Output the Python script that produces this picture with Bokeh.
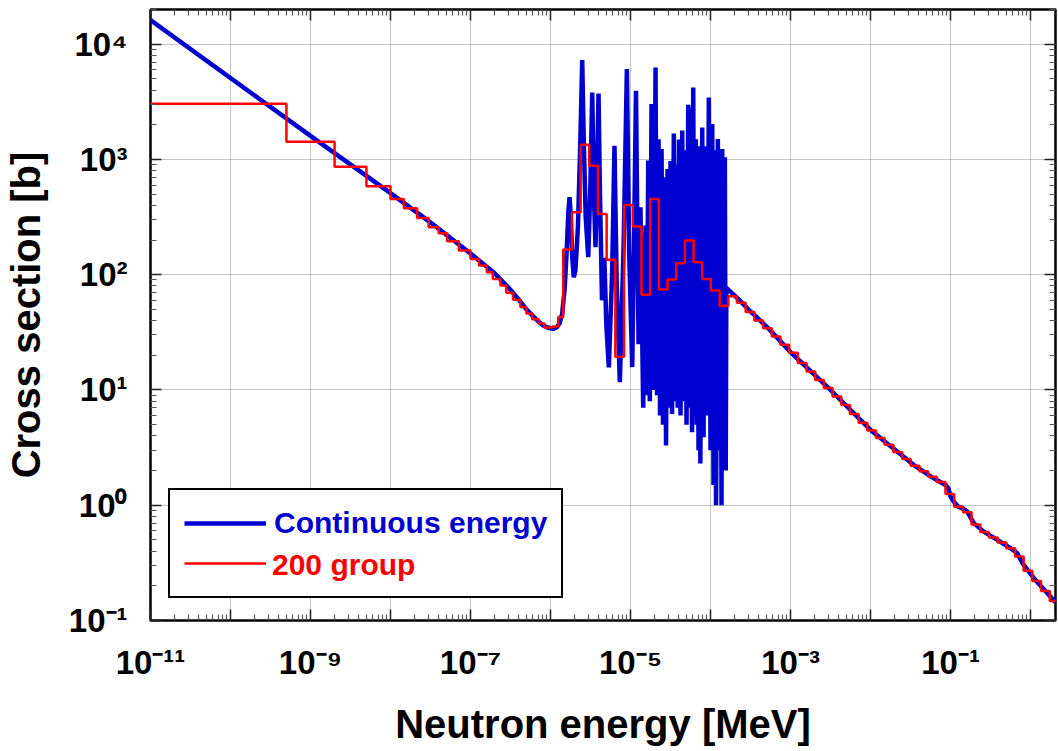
from bokeh.plotting import figure
from bokeh.models import (FixedTicker, CustomJSTickFormatter, LogAxis, Legend,
                          LegendItem, Range1d)
from bokeh.embed import file_html
from bokeh.resources import INLINE

# ---------------- data ----------------
# continuous-energy cross section [b] vs neutron energy [MeV]
ce_energy = [
    1e-11, 1e-9, 1e-8, 3e-8, 1e-7, 2e-7, 3e-7, 4e-7, 5e-7, 6e-7, 7e-7, 8e-7, 9e-7,
    1.0e-6, 1.1e-6, 1.2e-6, 1.3e-6, 1.4e-6, 1.5e-6, 1.6e-6, 1.67e-6, 1.73e-6, 1.79e-6,
    1.87e-6, 1.955e-6, 2.05e-6, 2.2e-6, 2.35e-6, 2.49e-6, 2.6e-6, 2.75e-6, 2.96e-6,
    3.15e-6, 3.32e-6, 3.48e-6, 3.65e-6, 3.8e-6, 3.98e-6, 4.15e-6, 4.4e-6, 4.7e-6,
    5.0e-6, 5.36e-6, 5.9e-6, 6.3e-6, 6.7e-6, 7.35e-6, 8.2e-6, 9.0e-6, 9.6e-6,
    1.05e-5, 1.12e-5, 1.17e-5, 1.22e-5, 1.26e-5, 1.33e-5, 1.44e-5,
    1.540e-5, 1.594e-5, 1.664e-5, 1.742e-5, 1.830e-5, 1.939e-5, 2.054e-5, 2.145e-5,
    2.239e-5, 2.338e-5, 2.441e-5, 2.548e-5, 2.661e-5, 2.778e-5, 2.901e-5, 3.029e-5,
    3.162e-5, 3.302e-5, 3.477e-5, 3.620e-5, 3.758e-5, 3.890e-5, 4.038e-5, 4.217e-5,
    4.428e-5, 4.597e-5, 4.800e-5, 5.012e-5, 5.262e-5, 5.464e-5, 5.656e-5, 5.871e-5,
    6.077e-5, 6.310e-5, 6.549e-5, 6.721e-5, 6.878e-5, 7.079e-5, 7.328e-5, 7.455e-5,
    7.874e-5, 8.177e-5, 8.660e-5, 9.039e-5, 9.522e-5, 1.000e-4, 1.050e-4, 1.090e-4,
    1.138e-4, 1.172e-4, 1.234e-4, 1.288e-4, 1.326e-4, 1.372e-4, 1.400e-4, 1.454e-4,
    1.509e-4, 1.549e-4, 1.576e-4,
    2.15e-4, 3.16e-4, 5.13e-4, 1.0e-3, 3.16e-3, 1.0e-2, 3.48e-2, 5.7e-2, 8.66e-2,
    9.4e-2, 1.0e-1, 1.08e-1, 1.24e-1, 1.45e-1, 1.62e-1, 1.95e-1, 2.6e-1, 3.84e-1,
    5.6e-1, 6.8e-1, 7.9e-1, 1.1, 2.05,
]
ce_xs = [
    16200, 1600, 510, 292, 153, 103, 77, 61, 50, 44, 39.5, 36.5, 35,
    34.3, 34.0, 35, 38, 46, 75, 170, 350, 470, 320,
    140, 95, 110, 260, 1300, 7270, 1500, 320, 142,
    600, 3810, 520, 173, 650, 3740, 500, 60, 140,
    35, 15.7, 110, 1317, 90, 11.7, 180, 6075, 160,
    15.8, 380, 3940, 200, 25, 385, 7,
    267, 9, 977, 8, 3020, 10, 6270, 9,
    1500, 6, 1233, 5, 700, 3.3, 828, 7,
    970, 6.2, 1683, 8, 900, 7, 1490, 6,
    1780, 8, 1200, 5, 2980, 7, 2800, 4.3,
    4210, 6, 1500, 5, 1115, 3, 1300, 2.3,
    1897, 3.9, 1300, 6, 3450, 3, 2030, 1.5,
    1200, 1.0, 1505, 3, 900, 1.0, 1233, 2,
    1043, 2, 77,
    63, 48, 35, 21.3, 10, 4.5, 2.23, 1.77, 1.5,
    1.4, 1.19, 1.09, 0.975, 0.93, 0.88, 0.70, 0.59, 0.50,
    0.424, 0.385, 0.315, 0.233, 0.144,
]

# 200-group cross section: group boundaries [MeV] and group values [b]
grp_edges = [
    1e-11, 5e-10, 2e-9, 5e-9, 1e-8, 1.47e-8, 2.15e-8, 3.0e-8, 4.0e-8, 5.1e-8, 7.15e-8,
    1.0e-7, 1.28e-7, 1.6e-7, 1.9e-7, 2.37e-7, 2.8e-7, 3.4e-7, 4.2e-7, 5.0e-7, 5.9e-7,
    7.1e-7, 8.4e-7, 1.05e-6, 1.25e-6, 1.442e-6, 1.852e-6, 2.378e-6, 3.05e-6, 3.92e-6,
    5.03e-6, 6.46e-6, 8.3e-6, 1.066e-5, 1.37e-5, 1.76e-5, 2.26e-5, 2.9e-5, 3.72e-5,
    4.78e-5, 6.14e-5, 7.88e-5, 1.01e-4, 1.3e-4, 1.67e-4, 2.14e-4, 2.75e-4, 3.53e-4,
    4.54e-4, 5.83e-4, 7.48e-4, 9.61e-4, 1.234e-3, 1.585e-3, 2.035e-3, 2.61e-3, 3.35e-3,
    4.31e-3, 5.53e-3, 7.1e-3, 9.12e-3, 1.171e-2, 1.5e-2, 1.93e-2, 2.48e-2, 3.18e-2,
    4.08e-2, 5.24e-2, 6.73e-2, 8.65e-2, 1.11e-1, 1.43e-1, 1.83e-1, 2.35e-1, 3.02e-1,
    3.88e-1, 4.98e-1, 6.4e-1, 8.2e-1, 1.05, 1.35, 1.74, 2.23,
]
grp_xs = [
    3043, 1426, 866, 585, 455, 378, 311, 258, 229, 195,
    162, 137, 120.5, 105, 92, 80.8, 69.8, 60.8, 52.4, 46,
    41, 37.7, 34.8, 35.6, 43, 165.6, 348, 1343, 884,
    337, 135, 19.4, 403, 262, 67, 455, 74.6, 91,
    126, 198, 128.5, 92, 73, 53.5, 65, 57, 47.5,
    40.1, 34.3, 29.1, 24.7, 21, 17.1, 14.5, 12.2, 10.4,
    8.8, 7.4, 6.2, 5.2, 4.45, 3.83, 3.34, 2.9, 2.52,
    2.2, 1.97, 1.77, 1.59, 1.25, 0.97, 0.87, 0.68, 0.585,
    0.525, 0.475, 0.423, 0.36, 0.27, 0.22, 0.18, 0.148,
]

x_tick_exps = list(range(-11, 1))
x_tick_labels = ["10⁻¹¹", "", "10⁻⁹", "", "10⁻⁷", "", "10⁻⁵", "", "10⁻³", "", "10⁻¹", ""]
y_tick_exps = [-1, 0, 1, 2, 3, 4]
y_tick_labels = ["10⁻¹", "10⁰", "10¹", "10²", "10³", "10⁴"]

series_names = ["Continuous energy", "200 group"]
series_colors = ["#0000d0", "#ff0000"]

# ---------------- figure ----------------
FONT = "Liberation Sans"

p = figure(width=1058, height=751, x_axis_type="log", y_axis_type="log",
           x_range=Range1d(1e-11, 2.05), y_range=Range1d(0.1, 2e4),
           output_backend="svg", toolbar_location=None,
           min_border_left=150, min_border_right=3, min_border_top=9,
           min_border_bottom=131)
p.background_fill_color = "white"
p.border_fill_color = "white"
p.outline_line_color = "black"
p.outline_line_width = 2.5

minor_x = [m * 10.0 ** e for e in range(-12, 1) for m in range(2, 10)]
minor_y = [m * 10.0 ** e for e in range(-2, 5) for m in range(2, 10)]
xticker = FixedTicker(ticks=[10.0 ** e for e in x_tick_exps], minor_ticks=minor_x)
yticker = FixedTicker(ticks=[10.0 ** e for e in y_tick_exps], minor_ticks=minor_y)

fmt_code = """
const e = Math.round(Math.log10(tick));
const i = exps.indexOf(e);
return i >= 0 ? labels[i] : "";
"""
xfmt = CustomJSTickFormatter(args=dict(exps=x_tick_exps, labels=x_tick_labels), code=fmt_code)
yfmt = CustomJSTickFormatter(args=dict(exps=y_tick_exps, labels=y_tick_labels), code=fmt_code)
blankfmt = CustomJSTickFormatter(code="return '';")


def style_axis(ax, ticker, fmt):
    ax.ticker = ticker
    ax.formatter = fmt
    ax.axis_line_color = None
    ax.major_tick_in = 11
    ax.major_tick_out = 0
    ax.minor_tick_in = 6
    ax.minor_tick_out = 0
    ax.major_tick_line_color = "#222222"
    ax.major_tick_line_width = 1.5
    ax.minor_tick_line_color = "#555555"
    ax.minor_tick_line_width = 1.2


xa = p.xaxis[0]
ya = p.yaxis[0]
style_axis(xa, xticker, xfmt)
style_axis(ya, yticker, yfmt)
for ax in (xa, ya):
    ax.major_label_text_font = FONT
    ax.major_label_text_font_style = "bold"
    ax.major_label_text_font_size = "33px"
    ax.major_label_text_color = "black"
    ax.axis_label_text_font = FONT
    ax.axis_label_text_font_style = "bold"
    ax.axis_label_text_font_size = "40px"
    ax.axis_label_text_color = "black"
xa.axis_label = "Neutron energy [MeV]"
ya.axis_label = "Cross section [b]"
xa.major_label_standoff = 23
xa.axis_label_standoff = 18
ya.major_label_standoff = 23
ya.axis_label_standoff = 18

top_ax = LogAxis()
right_ax = LogAxis()
style_axis(top_ax, xticker, blankfmt)
style_axis(right_ax, yticker, blankfmt)
for ax in (top_ax, right_ax):
    ax.major_label_text_font_size = "0px"
    ax.major_label_standoff = 0
p.add_layout(top_ax, "above")
p.add_layout(right_ax, "right")

for g, t in ((p.xgrid[0], xticker), (p.ygrid[0], yticker)):
    g.ticker = t
    g.grid_line_color = "#8a8a8a"
    g.grid_line_width = 1
    g.grid_line_dash = "1 1"

# ---------------- series ----------------
blue = p.line(ce_energy, ce_xs, line_color=series_colors[0], line_width=4.5)
red = p.step(grp_edges, grp_xs + [grp_xs[-1]], mode="after",
             line_color=series_colors[1], line_width=2.5)
dummy = p.line([], [], line_alpha=0)

# ---------------- legend (two overlaid legends for per-label colours) -------
common = dict(location=(18, 22), padding=14, spacing=2, margin=0,
              glyph_width=82, glyph_height=38, label_height=38,
              label_standoff=8, label_text_font=FONT,
              label_text_font_style="bold", label_text_font_size="30px")
leg1 = Legend(items=[LegendItem(label=series_names[0], renderers=[blue]),
                     LegendItem(label=" ", renderers=[red])],
              label_text_color=series_colors[0],
              border_line_color="black", border_line_width=2, border_line_alpha=1.0,
              background_fill_color="white", background_fill_alpha=1.0, **common)
leg2 = Legend(items=[LegendItem(label=series_names[1], renderers=[dummy])],
              label_text_color=series_colors[1],
              border_line_alpha=0, background_fill_alpha=0, **common)
p.add_layout(leg1, "center")
p.add_layout(leg2, "center")

open("out.html", "w").write(file_html(p, INLINE))
